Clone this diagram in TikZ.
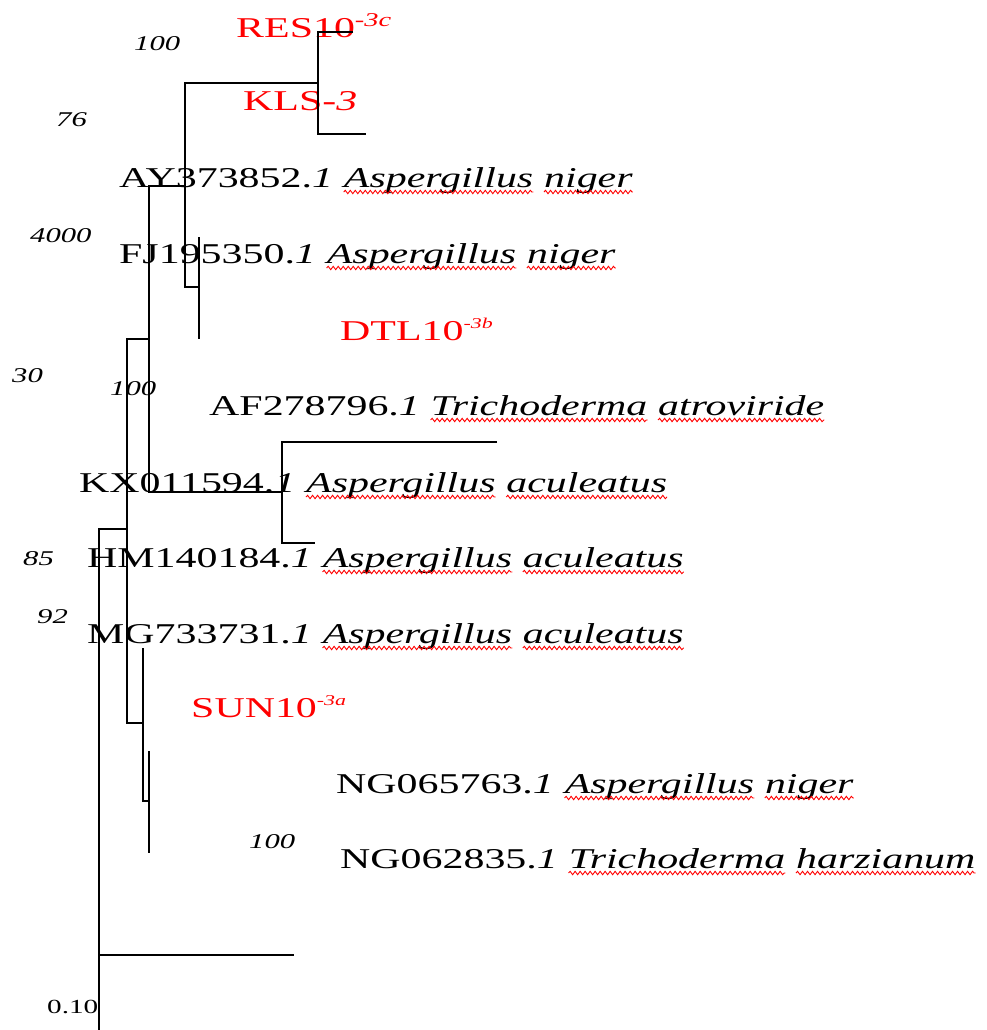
\documentclass[tikz,border=0pt]{standalone}
\usepackage{fontspec}
\usepackage{graphicx}
\usetikzlibrary{decorations.pathmorphing}
\setmainfont{Liberation Serif}
\newcommand\sx[1]{\scalebox{1.46}[1]{#1}}
\newcommand\supa[1]{\raisebox{11pt}{\fontsize{19.5}{21}\selectfont\itshape #1}}
\newcommand\supb[1]{\raisebox{12pt}{\fontsize{15}{17}\selectfont\itshape #1}}
\tikzset{
  lbl/.style={anchor=base west, inner sep=0pt, font=\fontsize{28.7}{34}\selectfont},
  redlbl/.style={lbl, text=red},
  bs/.style={anchor=base west, inner sep=0pt, font=\fontsize{21}{25}\selectfont\itshape},
  branch/.style={line width=2pt, black},
  wave/.style={red, line width=0.9pt, decorate, decoration={snake, segment length=5pt, amplitude=1.7pt}}
}
\newcommand\taxon[6]{%
  \node[lbl] (#1a) at (#2,#3) {\sx{#4.\textit{1}}};
  \node[lbl] (#1g) at ([xshift=10.5pt]#1a.base east) {\sx{\textit{#5}}};
  \node[lbl] (#1s) at ([xshift=10.5pt]#1g.base east) {\sx{\textit{#6}}};
  \draw[wave] ([yshift=-5pt]#1g.base west) -- ([yshift=-5pt]#1g.base east);
  \draw[wave] ([yshift=-5pt]#1s.base west) -- ([yshift=-5pt]#1s.base east);
}
\begin{document}
\begin{tikzpicture}[x=1pt,y=-1pt]
\useasboundingbox (0,0) rectangle (986,1030);
% labels
\node[redlbl] (res) at (236,38) {\sx{RES10\supa{-3c}}};
\node[redlbl] (kls) at (243,111) {\sx{KLS\textit{-3}}};
\taxon{ay}{119}{187}{AY373852}{Aspergillus}{niger}
\taxon{fj}{119}{263}{FJ195350}{Aspergillus}{niger}
\node[redlbl] (dtl) at (340,340) {\sx{DTL10\supb{-3b}}};
\taxon{af}{209}{415}{AF278796}{Trichoderma}{atroviride}
\taxon{kx}{79}{492}{KX011594}{Aspergillus}{aculeatus}
\taxon{hm}{87}{567}{HM140184}{Aspergillus}{aculeatus}
\taxon{mg}{87}{643}{MG733731}{Aspergillus}{aculeatus}
\node[redlbl] (sun) at (191,717) {\sx{SUN10\supb{-3a}}};
\taxon{nga}{336}{793}{NG065763}{Aspergillus}{niger}
\taxon{ngb}{340}{868}{NG062835}{Trichoderma}{harzianum}
% bootstrap values
\node[bs] (b1) at (134,51) {\sx{100}};
\node[bs] (b2) at (56,127) {\sx{76}};
\node[bs] (b3) at (30,242) {\sx{4000}};
\node[bs] (b4) at (12,382) {\sx{30}};
\node[bs] (b5) at (110,395) {\sx{100}};
\node[bs] (b6) at (23,565) {\sx{85}};
\node[bs] (b7) at (37,623) {\sx{92}};
\node[bs] (b8) at (249,848) {\sx{100}};
\node[bs, font=\fontsize{20}{24}\selectfont] (scale) at (47,1013) {\sx{0.10}};
% tree coordinates
\coordinate (t1) at (353,32);
\coordinate (t2) at (366,134);
\coordinate (n1) at (318,83);
\coordinate (n2) at (185,186);
\coordinate (n3) at (199,287);
\coordinate (t3) at (199,237);
\coordinate (t4) at (199,339);
\coordinate (n4) at (149,339);
\coordinate (n5) at (282,492);
\coordinate (t5) at (497,442);
\coordinate (t6) at (315,543);
\coordinate (n6) at (127,529);
\coordinate (n7) at (143,723);
\coordinate (t7) at (143,648);
\coordinate (n8) at (149,801);
\coordinate (t8) at (149,751);
\coordinate (t9) at (149,853);
\coordinate (n9) at (99,955);
\coordinate (t10) at (294,955);
\coordinate (t11) at (99,1032);
% branches
\draw[branch] (t1) -| (n1) |- (t2);
\draw[branch] (n1) -| (n2) |- (n3);
\draw[branch] (t3) -- (n3) -- (t4);
\draw[branch] (n2) -| (n4) |- (n5);
\draw[branch] (t5) -| (n5) |- (t6);
\draw[branch] (n4) -| (n6) |- (n7);
\draw[branch] (t7) -- (n7) |- (n8);
\draw[branch] (t8) -- (n8) -- (t9);
\draw[branch] (n6) -| (n9) -- (t11);
\draw[branch] (n9) -- (t10);
\end{tikzpicture}
\end{document}
